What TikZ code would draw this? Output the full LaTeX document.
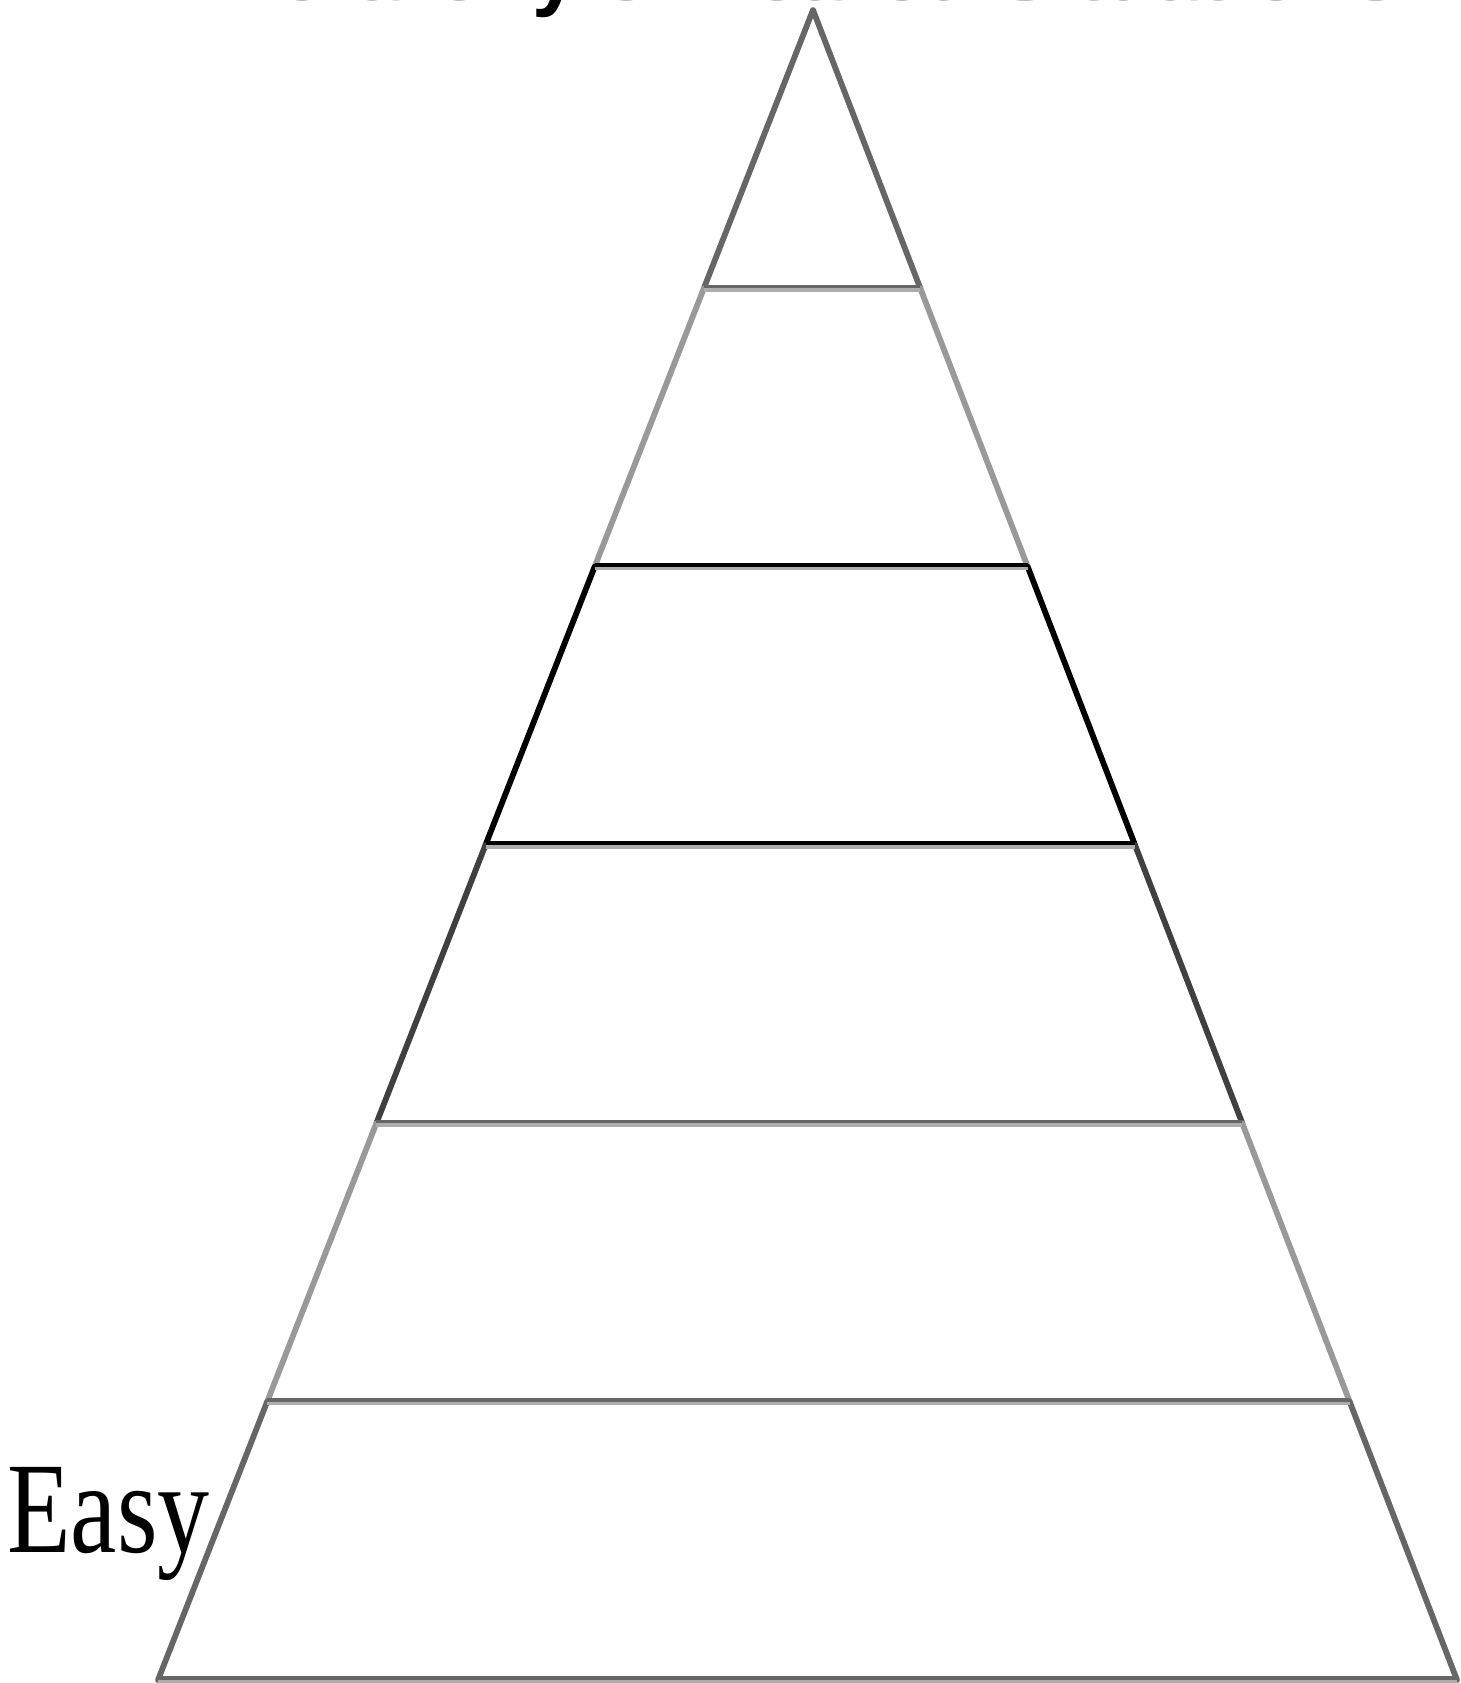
\documentclass[tikz,border=0pt]{standalone}
\usepackage{fontspec}
\setmainfont{Liberation Serif}
\newfontfamily\headfont{Liberation Sans}
\usetikzlibrary{calc}
\definecolor{levelgray}{HTML}{666666}
\definecolor{palegray}{HTML}{999999}
\definecolor{titlegray}{HTML}{a9a9a9}

\begin{document}
\begin{tikzpicture}[
  x=0.5pt, y=-0.5pt,
  side/.style={line width=2.9pt, line cap=round},
  rung/.style={line width=3.8pt, palegray!80},
  ledge/.style={line width=1.9pt},
  label/.style={font=\fontsize{65}{70}\selectfont, inner sep=0pt, anchor=base west},
  heading/.style={font=\headfont\bfseries\fontsize{41.5}{45}\selectfont, text=titlegray,
    inner sep=0pt, anchor=base west}
]
\useasboundingbox (0,0) rectangle (1461,1683);

\node[heading] (title) at (195,0.5) {Hierarch{\color{black}y} of Feared Situations};

\coordinate (apex) at (813,10);
\coordinate (bl) at (158,1680);
\coordinate (br) at (1457,1680);
\foreach \k in {0,...,6} {
  \coordinate (l\k) at ($(apex)!\k/6!(bl)$);
  \coordinate (r\k) at ($(apex)!\k/6!(br)$);
}

\foreach \a/\b/\col in {0/1/levelgray, 1/2/palegray, 2/3/black, 3/4/darkgray, 4/5/palegray, 5/6/levelgray}
  \draw[side, \col] (l\a) -- (l\b) (r\a) -- (r\b);

\foreach \k/\col in {1/levelgray, 2/black, 3/black, 4/levelgray, 5/levelgray, 6/levelgray} {
  \draw[rung] (l\k) -- (r\k);
  \draw[ledge, \col] ([yshift=0.9pt]l\k) -- ([yshift=0.9pt]r\k);
}

\node[label] (easy) at (7,1552) {\scalebox{0.8}[1]{Easy}};

\end{tikzpicture}
\end{document}
